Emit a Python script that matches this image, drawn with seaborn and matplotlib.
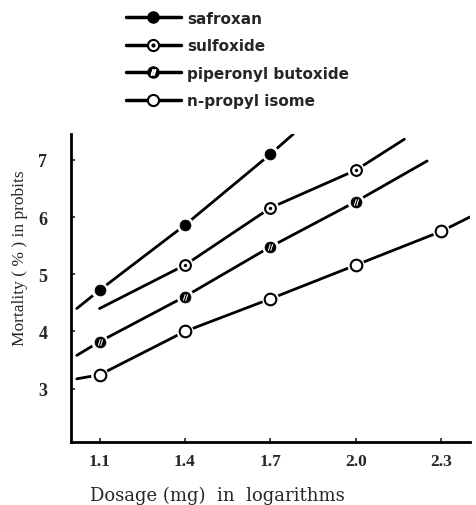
import numpy as np
import pandas as pd
import matplotlib
matplotlib.use("Agg")
import matplotlib.pyplot as plt
from matplotlib.lines import Line2D
import seaborn as sns

# data (dosage in log mg, mortality in probits)
names = ["safroxan", "sulfoxide", "piperonyl butoxide", "n-propyl isome"]

safroxan_x = [1.1, 1.4, 1.7]
safroxan_y = [4.72, 5.86, 7.10]
sulfoxide_x = [1.4, 1.7, 2.0]
sulfoxide_y = [5.16, 6.16, 6.82]
piperonyl_x = [1.1, 1.4, 1.7, 2.0]
piperonyl_y = [3.82, 4.61, 5.48, 6.27]
propyl_x = [1.1, 1.4, 1.7, 2.0, 2.3]
propyl_y = [3.24, 4.00, 4.57, 5.16, 5.75]

# ends of the drawn (fitted) lines
safroxan_ends = [(1.02, 4.40), (1.78, 7.45)]
sulfoxide_ends = [(1.10, 4.40), (2.17, 7.36)]
piperonyl_ends = [(1.02, 3.58), (2.25, 6.98)]
propyl_ends = [(1.02, 3.17), (2.40, 6.00)]

xticks = [1.1, 1.4, 1.7, 2.0, 2.3]
yticks = [3, 4, 5, 6, 7]

sns.set_style("ticks")
plt.rcParams['font.family'] = ['Liberation Serif', 'DejaVu Serif']

fig = plt.figure(figsize=(4.77, 5.06), dpi=100)
ax = fig.add_axes([0.149, 0.125, 0.836, 0.608])

series = [
    (safroxan_x, safroxan_y, safroxan_ends),
    (sulfoxide_x, sulfoxide_y, sulfoxide_ends),
    (piperonyl_x, piperonyl_y, piperonyl_ends),
    (propyl_x, propyl_y, propyl_ends),
]

for xs, ys, ends in series:
    lx = [ends[0][0]] + list(xs) + [ends[1][0]]
    ly = [ends[0][1]] + list(ys) + [ends[1][1]]
    sns.lineplot(x=lx, y=ly, color="black", lw=2, ax=ax, sort=False, zorder=2)
    # white halo gives the small gap round each marker
    sns.scatterplot(x=xs, y=ys, s=150, color="white", edgecolor="none", ax=ax, zorder=3)

ms = 60
sns.scatterplot(x=safroxan_x, y=safroxan_y, s=ms, color="black", edgecolor="black", ax=ax, zorder=4)
sns.scatterplot(x=sulfoxide_x, y=sulfoxide_y, s=ms, color="white", edgecolor="black", linewidth=1.5, ax=ax, zorder=4)
sns.scatterplot(x=sulfoxide_x, y=sulfoxide_y, s=5, color="black", edgecolor="black", ax=ax, zorder=5)
sns.scatterplot(x=piperonyl_x, y=piperonyl_y, s=ms, color="black", edgecolor="black", ax=ax, zorder=4)
sns.scatterplot(x=piperonyl_x, y=piperonyl_y, s=18, marker="$//$", color="white", edgecolor="white", linewidth=0.3, ax=ax, zorder=5)
sns.scatterplot(x=propyl_x, y=propyl_y, s=ms + 10, color="white", edgecolor="black", linewidth=1.5, ax=ax, zorder=4)

ax.set_xlim(1.0, 2.4)
ax.set_ylim(2.07, 7.45)
ax.set_xticks(xticks)
ax.set_xticklabels(["1.1", "1.4", "1.7", "2.0", "2.3"], fontsize=12.5, fontweight="bold")
ax.set_yticks(yticks)
ax.set_yticklabels([str(v) for v in yticks], fontsize=13, fontweight="bold")
ax.tick_params(direction="in", length=3, width=1.2)
ax.tick_params(axis="x", pad=8)
ax.tick_params(axis="y", pad=17)
for side in ["top", "right"]:
    ax.spines[side].set_visible(False)
for side in ["left", "bottom"]:
    ax.spines[side].set_linewidth(2)
    ax.spines[side].set_color("black")

ax.set_xlabel("Dosage (mg)  in  logarithms", fontsize=13, family="DejaVu Serif")
ax.xaxis.set_label_coords(0.366, -0.143)
ax.set_ylabel("Mortality ( % ) in probits", fontsize=12.5)
ax.yaxis.set_label_coords(-0.108, 0.60)

# legend above the plot
handles = [
    Line2D([], [], color="black", lw=2.5, marker="o", ms=8, mfc="black", mec="black"),
    (Line2D([], [], color="black", lw=2.5, marker="o", ms=8, mfc="white", mec="black", mew=1.5),
     Line2D([], [], ls="none", marker="o", ms=2, color="black")),
    (Line2D([], [], color="black", lw=2.5, marker="o", ms=8, mfc="black", mec="black"),
     Line2D([], [], ls="none", marker="$//$", ms=4, color="white")),
    Line2D([], [], color="black", lw=2.5, marker="o", ms=8, mfc="white", mec="black", mew=1.5),
]
fig.legend(handles, names, loc="upper left", bbox_to_anchor=(0.235, 1.004), frameon=False,
           handlelength=3.6, handletextpad=0.4, labelspacing=0.82,
           prop={"family": "DejaVu Sans", "size": 11, "weight": "bold"})

fig.savefig("out.png", dpi=100)
